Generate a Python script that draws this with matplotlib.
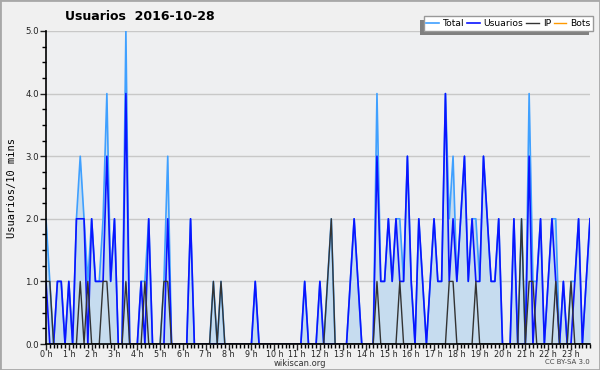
import matplotlib
matplotlib.use("Agg")
import matplotlib.pyplot as plt
from matplotlib.ticker import MultipleLocator, FormatStrFormatter
from matplotlib.transforms import IdentityTransform

# one value per 10 minutes, 2016-10-28 00:00 .. 23:50
usuarios = [1, 0, 0, 1, 1, 0, 1, 0, 2, 2, 2, 0, 2, 1, 1, 1, 3, 1, 2, 0, 0, 4, 0, 0,
            0, 1, 0, 2, 0, 0, 0, 0, 2, 0, 0, 0, 0, 0, 2, 0, 0, 0, 0, 0, 0, 0, 0, 0,
            0, 0, 0, 0, 0, 0, 0, 1, 0, 0, 0, 0, 0, 0, 0, 0, 0, 0, 0, 0, 1, 0, 0, 0,
            1, 0, 0, 0, 0, 0, 0, 0, 1, 2, 1, 0, 0, 0, 0, 3, 1, 1, 2, 1, 2, 1, 1, 3,
            1, 0, 2, 1, 0, 1, 2, 1, 1, 4, 1, 2, 1, 2, 3, 1, 2, 1, 1, 3, 2, 1, 1, 2,
            0, 0, 0, 2, 0, 0, 0, 3, 0, 1, 2, 0, 1, 2, 1, 0, 1, 0, 0, 1, 2, 0, 1, 2]
ip = [1, 1, 0, 0, 0, 0, 0, 0, 0, 1, 0, 1, 0, 0, 0, 1, 1, 0, 0, 0, 0, 1, 0, 0,
      0, 0, 1, 0, 0, 0, 0, 1, 1, 0, 0, 0, 0, 0, 0, 0, 0, 0, 0, 0, 1, 0, 1, 0,
      0, 0, 0, 0, 0, 0, 0, 0, 0, 0, 0, 0, 0, 0, 0, 0, 0, 0, 0, 0, 0, 0, 0, 0,
      0, 0, 1, 2, 0, 0, 0, 0, 0, 0, 0, 0, 0, 0, 0, 1, 0, 0, 0, 0, 0, 1, 0, 0,
      0, 0, 0, 0, 0, 0, 0, 0, 0, 0, 1, 1, 0, 0, 0, 0, 0, 1, 0, 0, 0, 0, 0, 0,
      0, 0, 0, 0, 0, 2, 0, 1, 1, 0, 0, 0, 0, 0, 1, 0, 0, 0, 1, 0, 0, 0, 0, 0]
total = [2, 1, 0, 1, 1, 0, 1, 0, 2, 3, 2, 1, 2, 1, 1, 2, 4, 1, 2, 0, 0, 5, 0, 0,
         0, 1, 1, 2, 0, 0, 0, 1, 3, 0, 0, 0, 0, 0, 2, 0, 0, 0, 0, 0, 1, 0, 1, 0,
         0, 0, 0, 0, 0, 0, 0, 1, 0, 0, 0, 0, 0, 0, 0, 0, 0, 0, 0, 0, 1, 0, 0, 0,
         1, 0, 1, 2, 0, 0, 0, 0, 1, 2, 1, 0, 0, 0, 0, 4, 1, 1, 2, 1, 2, 2, 1, 3,
         1, 0, 2, 1, 0, 1, 2, 1, 1, 4, 2, 3, 1, 2, 3, 1, 2, 2, 1, 3, 2, 1, 1, 2,
         0, 0, 0, 2, 0, 2, 0, 4, 1, 1, 2, 0, 1, 2, 2, 0, 1, 0, 1, 1, 2, 0, 1, 2]
bots = [0, 0, 0, 0, 0, 0, 0, 0, 0, 0, 0, 0, 0, 0, 0, 0, 0, 0, 0, 0, 0, 0, 0, 0,
        0, 0, 0, 0, 0, 0, 0, 0, 0, 0, 0, 0, 0, 0, 0, 0, 0, 0, 0, 0, 0, 0, 0, 0,
        0, 0, 0, 0, 0, 0, 0, 0, 0, 0, 0, 0, 0, 0, 0, 0, 0, 0, 0, 0, 0, 0, 0, 0,
        0, 0, 0, 0, 0, 0, 0, 0, 0, 0, 0, 0, 0, 0, 0, 0, 0, 0, 0, 0, 0, 0, 0, 0,
        0, 0, 0, 0, 0, 0, 0, 0, 0, 0, 0, 0, 0, 0, 0, 0, 0, 0, 0, 0, 0, 0, 0, 0,
        0, 0, 0, 0, 0, 0, 0, 0, 0, 0, 0, 0, 0, 0, 0, 0, 0, 0, 0, 0, 0, 0, 0, 0]
hour_labels = ["%d h" % h for h in range(24)]

x = [i / 6 for i in range(len(total))]

fig = plt.figure(figsize=(6, 3.7), dpi=100, facecolor="#f0f0f0")
fig.patches.append(plt.Rectangle((0, 0), 1, 1, transform=fig.transFigure,
                                 fill=False, edgecolor="#a8a8a8", lw=2))
ax = fig.add_axes([46 / 600, 26 / 370, 544 / 600, 313 / 370], facecolor="#eeeff1")

ax.fill_between(x, total, 0, color="#c6dcef", lw=0)
ax.plot(x, total, color="#3fa0ff", lw=1.2, label="Total")
ax.plot(x, usuarios, color="#0a14ff", lw=1.2, label="Usuarios")
ax.plot(x, ip, color="#333333", lw=1.0, label="IP")
ax.plot(x, bots, color="#ff9900", lw=1.0, label="Bots", zorder=0)

ax.set_xlim(0, x[-1])
ax.set_ylim(0, 5)
ax.yaxis.set_major_locator(MultipleLocator(1))
ax.yaxis.set_minor_locator(MultipleLocator(0.25))
ax.yaxis.set_major_formatter(FormatStrFormatter("%.1f"))
ax.set_xticks(range(24))
ax.set_xticklabels(hour_labels)
ax.xaxis.set_minor_locator(MultipleLocator(1 / 6))
ax.grid(axis="y", color="#c8c8c8", lw=1)
ax.set_axisbelow(True)

for s in ["top", "right"]:
    ax.spines[s].set_visible(False)
ax.spines["left"].set_linewidth(1.2)
ax.spines["bottom"].set_linewidth(1.2)
ax.tick_params(axis="both", which="major", length=4, width=1, colors="#222222")
ax.tick_params(axis="x", which="major", labelsize=5.8, pad=0)
ax.tick_params(axis="y", which="major", labelsize=6.2, pad=1)
ax.tick_params(axis="both", which="minor", length=3, width=1)

ax.set_ylabel("Usuarios/10 mins", family="DejaVu Sans Mono", fontsize=7.5, labelpad=6)
fig.text(140 / 600, 1 - 16 / 370, "Usuarios  2016-10-28", ha="center", va="center",
         fontsize=9, fontweight="bold")
fig.text(300 / 600, 1 - 363 / 370, "wikiscan.org", ha="center", va="center",
         fontsize=6, color="#333333")
fig.text(590 / 600, 1 - 362 / 370, "CC BY-SA 3.0", ha="right", va="center",
         fontsize=5, color="#444444")

leg = ax.legend(loc="upper right", bbox_to_anchor=(593 / 600, 1 - 16 / 370),
                bbox_transform=fig.transFigure, ncol=4, fontsize=6.6, frameon=True,
                fancybox=False, handlelength=1.4, handletextpad=0.4,
                columnspacing=0.3, borderpad=0.3, borderaxespad=0)
leg.get_frame().set_edgecolor("#999999")
leg.get_frame().set_linewidth(1)
leg.get_frame().set_facecolor("white")
leg.get_frame().set_alpha(1)
leg.set_zorder(10)

# grey drop shadow down and to the left of the legend box
fig.canvas.draw()
bb = leg.get_window_extent()
shadow = plt.Rectangle((bb.x0 - 4, bb.y0 - 4), bb.width, bb.height,
                       transform=IdentityTransform(), facecolor="#808080",
                       edgecolor="none", zorder=9, clip_on=False)
ax.add_artist(shadow)

fig.savefig("out.png", dpi=100, facecolor=fig.get_facecolor())
